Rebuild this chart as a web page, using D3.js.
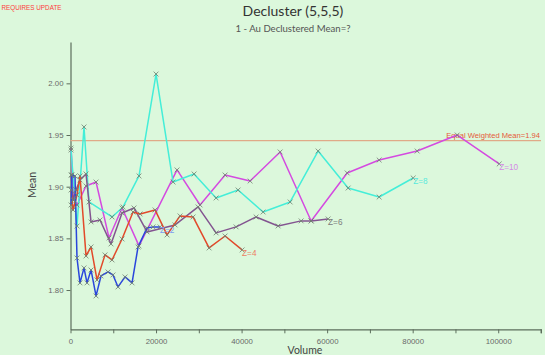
<!DOCTYPE html>
<html><head><meta charset="utf-8">
<script src="https://cdn.jsdelivr.net/npm/d3@7"></script>
<style>
html,body{margin:0;padding:0;background:#dcf8dc;}
svg{display:block;font-family:"Liberation Sans",Arial,sans-serif;}
</style></head>
<body>
<script>
// ---- data ----
const seriesNames = ["Z=2","Z=4","Z=6","Z=8","Z=10"];
const z2Vol  = [125,350,1050,1520,2220,3160,3860,4800,5970,7130,8770,9940,11110,12750,14390,15790,17900,19300,20940];
const z2Mean = [1.8823,1.9113,1.9103,1.8310,1.8069,1.8214,1.8069,1.8194,1.7943,1.8136,1.8175,1.8146,1.8030,1.8127,1.8069,1.8417,1.8601,1.8611,1.8611];
const z4Vol  = [125,590,1520,2220,3630,4800,6200,8070,9710,12050,14620,16260,19770,22570,25610,28660,32400,36140,40120];
const z4Mean = [1.8968,1.8775,1.8920,1.9104,1.8330,1.8417,1.8098,1.8340,1.8291,1.8494,1.8755,1.8736,1.8775,1.8533,1.8717,1.8707,1.8407,1.8523,1.8388];
const z6Vol  = [125,590,1290,2220,3630,4800,6900,9470,12050,14850,17900,24440,29830,34040,38710,43390,48540,53920,56260,60230];
const z6Mean = [1.9113,1.8871,1.8968,1.9065,1.9123,1.8659,1.8678,1.8446,1.8746,1.8794,1.8562,1.8630,1.8804,1.8553,1.8611,1.8707,1.8620,1.8669,1.8669,1.8688];
const z8Vol  = [125,1520,3160,4330,9710,12280,16020,20000,23980,28890,34040,39180,45030,51350,57890,64910,72160,80120];
const z8Mean = [1.9355,1.8619,1.9578,1.8852,1.8707,1.8804,1.9104,2.0090,1.9045,1.9123,1.8891,1.8968,1.8755,1.8852,1.9345,1.8987,1.8900,1.9084];
const z10Vol = [125,820,1520,3630,5970,9010,12050,16020,24910,30290,36140,41990,49010,56260,64680,72160,81050,90410,100230];
const z10Mean= [1.9374,1.8871,1.8823,1.9007,1.9045,1.8504,1.8794,1.8427,1.9162,1.8823,1.9113,1.9055,1.9336,1.8668,1.9133,1.9258,1.9345,1.9500,1.9220];
const equalWeightedMean = 1.9446;
const xTicks = [0,20000,40000,60000,80000,100000];
const yTicks = [1.80,1.85,1.90,1.95,2.00];

const lineColors  = ["#2a46dc","#e2492a","#835490","#44eed8","#d44ae0"];
const labelColors = ["#7b9cf0","#ec7d62","#7a7a7a","#58eadc","#d48ae6"];
const allVol  = [z2Vol,z4Vol,z6Vol,z8Vol,z10Vol];
const allMean = [z2Mean,z4Mean,z6Mean,z8Mean,z10Mean];

const W=545,H=355;
const svg=d3.select("body").append("svg").attr("width",W).attr("height",H);
svg.append("rect").attr("width",W).attr("height",H).attr("fill","#dcf8dc");

const x=d3.scaleLinear().domain([0,110000]).range([70.5,541]);
const y=d3.scaleLinear().domain([1.762,2.04]).range([329.3,42]);
const axisCol="#5d6e5d";

// titles
svg.append("text").attr("x",1.5).attr("y",9.5).attr("fill","#ff3b3b").attr("font-size",8)
  .attr("textLength",60).attr("lengthAdjust","spacingAndGlyphs").text("REQUIRES UPDATE");
svg.append("text").attr("x",293).attr("y",16).attr("text-anchor","middle").attr("fill","#333")
  .attr("font-size",14).attr("font-family","Lato, sans-serif").text("Decluster (5,5,5)");
svg.append("text").attr("x",293).attr("y",32).attr("text-anchor","middle").attr("fill","#555")
  .attr("font-size",9.6).attr("font-family","Lato, sans-serif").text("1 - Au Declustered Mean=?");

// axes
const gx=svg.append("g").attr("transform","translate(0,329.3)")
  .call(d3.axisBottom(x).tickValues(d3.range(0,110001,10000)).tickSize(4).tickSizeOuter(0)
    .tickFormat(d=>xTicks.includes(d)?d3.format("d")(d):""));
const gy=svg.append("g").attr("transform","translate(70.5,0)")
  .call(d3.axisLeft(y).tickValues(yTicks).tickSize(4).tickSizeOuter(0).tickFormat(d3.format(".2f")));
[gx,gy].forEach(g=>{
  g.select(".domain").attr("stroke",axisCol).attr("stroke-width",1.2);
  g.selectAll(".tick line").attr("stroke",axisCol);
  g.selectAll("text").attr("fill","#6a6a6a").attr("font-size",7.8);
});
gx.selectAll("text").attr("dy","0.95em");
gx.append("line").attr("x1",541).attr("x2",541).attr("y1",0).attr("y2",4).attr("stroke",axisCol);

svg.append("text").attr("x",305).attr("y",354).attr("text-anchor","middle").attr("fill","#444")
  .attr("font-size",10.5).attr("font-family","Lato, sans-serif").text("Volume");
svg.append("text").attr("transform","translate(36,185) rotate(-90)").attr("text-anchor","middle")
  .attr("fill","#444").attr("font-size",10.5).attr("font-family","Lato, sans-serif").text("Mean");

// equal weighted mean
svg.append("line").attr("x1",x(0)).attr("x2",541).attr("y1",y(equalWeightedMean)).attr("y2",y(equalWeightedMean))
  .attr("stroke","#e0aa88").attr("stroke-width",1.4);
svg.append("text").attr("x",540).attr("y",y(equalWeightedMean)-3).attr("text-anchor","end")
  .attr("fill","#e55a3a").attr("font-size",7.6).text("Equal Weighted Mean=1.94");

// series
const line=d3.line().x(d=>x(d[0])).y(d=>y(d[1]));
const order=[4,3,2,1,0];
order.forEach(i=>{
  const pts=allVol[i].map((v,k)=>[v,allMean[i][k]]);
  svg.append("path").datum(pts).attr("d",line).attr("fill","none")
    .attr("stroke",lineColors[i]).attr("stroke-width",1.5).attr("stroke-linejoin","round");
});
order.forEach(i=>{
  const pts=allVol[i].map((v,k)=>[v,allMean[i][k]]);
  const s=2.4;
  svg.append("g").selectAll("path").data(pts).join("path")
    .attr("d",d=>{const px=x(d[0]),py=y(d[1]);return `M${px-s},${py-s}L${px+s},${py+s}M${px-s},${py+s}L${px+s},${py-s}`;})
    .attr("stroke","#6f7f6f").attr("stroke-width",0.8).attr("fill","none");
});
order.forEach(i=>{
  const n=allVol[i].length-1;
  svg.append("text").attr("x",x(allVol[i][n])).attr("y",y(allMean[i][n])+6)
    .attr("fill",labelColors[i]).attr("font-size",8.2).text(seriesNames[i]);
});
</script>
</body></html>
